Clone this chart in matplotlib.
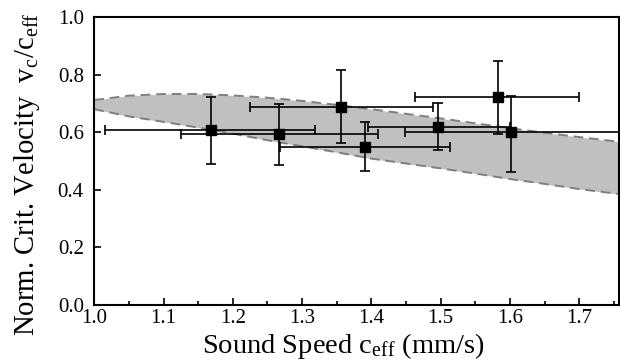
import numpy as np
import matplotlib
matplotlib.use('Agg')
import matplotlib.pyplot as plt
from matplotlib.ticker import MultipleLocator

plt.rcParams['font.family'] = ['Liberation Serif', 'DejaVu Serif']
plt.rcParams['mathtext.fontset'] = 'custom'
plt.rcParams['mathtext.rm'] = 'Liberation Serif'
plt.rcParams['mathtext.it'] = 'Liberation Serif:italic'

# measured points
c_eff = [1.168, 1.267, 1.356, 1.391, 1.496, 1.582, 1.602]
v_norm = [0.606, 0.593, 0.689, 0.550, 0.619, 0.722, 0.599]
x_lo = [1.016, 1.125, 1.225, 1.268, 1.395, 1.463, 1.449]
x_hi = [1.318, 1.410, 1.489, 1.513, 1.600, 1.700, 1.790]
y_lo = [0.490, 0.486, 0.561, 0.465, 0.538, 0.593, 0.463]
y_hi = [0.722, 0.697, 0.817, 0.635, 0.701, 0.848, 0.727]

# theory band
band_x = [1.0, 1.05, 1.1, 1.15, 1.2, 1.25, 1.3, 1.35, 1.4, 1.45, 1.5, 1.55, 1.6, 1.65, 1.7, 1.76]
band_hi = [0.712, 0.727, 0.733, 0.733, 0.728, 0.720, 0.709, 0.695, 0.680, 0.664, 0.648, 0.631, 0.614, 0.598, 0.583, 0.566]
band_lo = [0.680, 0.655, 0.636, 0.616, 0.595, 0.572, 0.551, 0.530, 0.508, 0.491, 0.474, 0.456, 0.437, 0.420, 0.402, 0.384]

fig = plt.figure(figsize=(6.2, 3.6), dpi=100)
ax = fig.add_axes([0.152, 0.154, 0.846, 0.798])

ax.fill_between(band_x, band_lo, band_hi, color='#c0c0c0', lw=0)
ax.plot(band_x, band_hi, color='#7f7f7f', ls=(0, (5, 3)), lw=1.4)
ax.plot(band_x, band_lo, color='#7f7f7f', ls=(0, (5, 3)), lw=1.4)

x = np.array(c_eff)
y = np.array(v_norm)
xerr = [x - np.array(x_lo), np.array(x_hi) - x]
yerr = [y - np.array(y_lo), np.array(y_hi) - y]
ax.errorbar(x, y, xerr=xerr, yerr=yerr, fmt='s', color='black', ms=7,
            elinewidth=1.2, capsize=3.5, capthick=1.2)

ax.set_xlim(1.0, 1.757)
ax.set_ylim(0.0, 1.0)
ax.xaxis.set_major_locator(MultipleLocator(0.1))
ax.xaxis.set_minor_locator(MultipleLocator(0.05))
ax.yaxis.set_major_locator(MultipleLocator(0.2))
ax.xaxis.set_major_formatter(plt.FormatStrFormatter('%.1f'))
ax.yaxis.set_major_formatter(plt.FormatStrFormatter('%.1f'))
ax.tick_params(which='both', direction='in', top=False, right=False, labelsize=15, width=1.2)
ax.tick_params(which='major', length=5)
ax.tick_params(which='minor', length=3)
ax.tick_params(axis='x', pad=3.5)
ax.tick_params(axis='y', pad=7.5)
for s in ax.spines.values():
    s.set_linewidth(1.5)

ax.set_xlabel(r'Sound Speed c$_\mathrm{eff}$ (mm/s)', fontsize=20.5, labelpad=2)
ax.set_ylabel(r'Norm. Crit. Velocity  v$_\mathrm{c}$/c$_\mathrm{eff}$', fontsize=20.7, labelpad=11)
ax.xaxis.label.set_x(0.475)
ax.yaxis.label.set_y(0.455)

fig.savefig('out.png', dpi=100)
